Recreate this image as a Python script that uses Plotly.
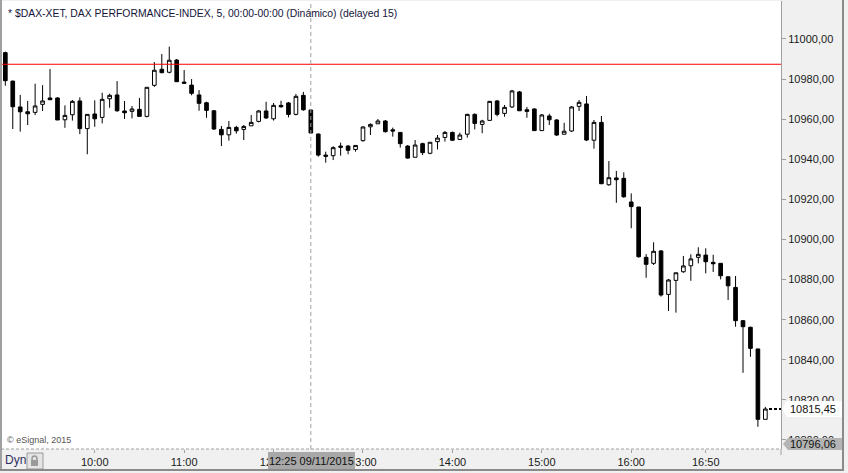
import pandas as pd
import plotly.graph_objects as go

# 5-minute candles, 09:00 - 17:30 (09/11/2015)
times = pd.date_range("2015-11-09 09:00", periods=103, freq="5min")

opens = [10993.2, 10979.0, 10966.1, 10963.7, 10963.4, 10967.4, 10970.6, 10970.6, 10959.7, 10962.2,
         10969.1, 10955.3, 10962.6, 10960.9, 10970.2, 10972.1, 10964.1, 10963.9, 10964.9, 10961.4,
         10976.9, 10984.9, 10983.4, 10989.5, 10978.5, 10977.0, 10972.1, 10968.2, 10964.2, 10954.9,
         10952.2, 10955.9, 10954.9, 10956.7, 10958.9, 10964.1, 10960.2, 10966.9, 10968.1, 10962.4,
         10971.9, 10964.6, 10952.6, 10942.1, 10941.8, 10946.6, 10946.6, 10944.9, 10949.3, 10956.2,
         10957.7, 10959.1, 10954.7, 10953.4, 10946.6, 10941.0, 10947.8, 10943.0, 10948.8, 10950.9,
         10953.4, 10949.9, 10952.5, 10962.4, 10957.4, 10959.4, 10969.1, 10962.9, 10966.1, 10973.6,
         10964.7, 10965.1, 10954.3, 10961.6, 10959.6, 10952.5, 10954.1, 10966.4, 10967.6, 10949.5,
         10958.4, 10927.3, 10930.7, 10930.5, 10918.7, 10916.2, 10891.1, 10888.1, 10894.3, 10872.6,
         10879.6, 10883.9, 10886.9, 10891.1, 10892.2, 10888.6, 10888.1, 10881.4, 10876.1, 10859.5,
         10856.2, 10845.4, 10810.3]
highs = [10993.7, 10979.2, 10972.1, 10969.1, 10977.7, 10977.0, 10985.0, 10970.9, 10966.9, 10969.6,
         10970.9, 10962.4, 10969.4, 10973.2, 10972.7, 10979.0, 10969.1, 10966.6, 10970.6, 10975.9,
         10988.5, 10992.5, 10996.2, 10990.0, 10984.5, 10980.0, 10974.5, 10968.7, 10964.6, 10956.6,
         10959.1, 10956.7, 10957.1, 10962.1, 10964.6, 10968.7, 10968.1, 10969.2, 10968.6, 10972.6,
         10973.6, 10964.9, 10952.9, 10943.8, 10946.5, 10948.3, 10947.1, 10946.9, 10956.5, 10957.9,
         10960.1, 10959.6, 10955.8, 10953.4, 10947.1, 10949.6, 10948.3, 10948.5, 10952.1, 10954.1,
         10953.8, 10953.3, 10962.7, 10962.9, 10959.7, 10969.1, 10969.6, 10967.1, 10974.6, 10974.1,
         10966.1, 10965.4, 10962.6, 10962.7, 10960.1, 10958.2, 10966.6, 10969.6, 10971.6, 10959.6,
         10961.6, 10939.1, 10934.2, 10933.5, 10923.0, 10916.2, 10892.7, 10898.6, 10894.7, 10880.3,
         10883.4, 10891.8, 10892.6, 10896.1, 10895.6, 10892.4, 10888.1, 10881.4, 10881.8, 10859.8,
         10856.5, 10845.4, 10816.5]
lows = [10976.7, 10955.1, 10953.8, 10957.1, 10962.1, 10964.1, 10969.7, 10959.6, 10955.7, 10959.3,
        10952.5, 10942.5, 10956.2, 10957.9, 10965.7, 10963.7, 10960.1, 10960.4, 10961.4, 10960.9,
        10976.1, 10982.9, 10982.9, 10978.7, 10977.9, 10971.9, 10964.2, 10960.7, 10954.6, 10946.6,
        10949.3, 10952.8, 10949.6, 10956.7, 10958.4, 10960.2, 10959.3, 10965.7, 10960.9, 10961.9,
        10964.2, 10952.9, 10941.3, 10938.3, 10939.6, 10941.8, 10942.5, 10943.8, 10948.8, 10952.1,
        10957.7, 10953.3, 10951.3, 10945.8, 10940.3, 10941.0, 10942.1, 10942.5, 10944.9, 10948.8,
        10949.1, 10949.6, 10950.8, 10954.9, 10953.0, 10959.4, 10961.4, 10961.2, 10965.6, 10964.2,
        10960.7, 10954.3, 10954.3, 10957.1, 10951.6, 10952.5, 10953.6, 10964.1, 10949.1, 10945.3,
        10927.8, 10926.8, 10918.3, 10920.8, 10905.6, 10890.9, 10880.9, 10887.3, 10871.5, 10864.3,
        10863.5, 10883.4, 10879.4, 10888.1, 10883.1, 10883.8, 10880.1, 10869.8, 10856.5, 10833.5,
        10841.5, 10806.6, 10810.3]
closes = [10979.2, 10966.2, 10963.7, 10962.7, 10966.6, 10969.1, 10969.7, 10959.6, 10961.9, 10968.9,
          10955.3, 10962.4, 10960.2, 10969.9, 10971.9, 10964.2, 10963.2, 10965.1, 10961.4, 10975.9,
          10984.4, 10983.2, 10989.4, 10978.7, 10977.9, 10972.9, 10967.9, 10964.4, 10955.1, 10952.2,
          10955.9, 10954.2, 10956.4, 10958.4, 10964.1, 10960.6, 10966.9, 10966.2, 10962.4, 10971.4,
          10964.7, 10953.1, 10942.1, 10941.5, 10945.8, 10946.0, 10944.5, 10946.9, 10956.1, 10957.4,
          10959.1, 10953.8, 10954.1, 10947.8, 10940.6, 10947.1, 10943.3, 10948.5, 10950.6, 10953.4,
          10949.5, 10952.1, 10962.4, 10957.9, 10959.1, 10968.9, 10962.4, 10965.9, 10974.1, 10964.2,
          10963.9, 10954.3, 10962.1, 10959.7, 10952.1, 10954.0, 10966.1, 10968.4, 10949.6, 10958.4,
          10927.8, 10930.8, 10929.8, 10921.3, 10916.4, 10891.4, 10887.6, 10894.1, 10872.3, 10879.8,
          10883.4, 10886.8, 10890.3, 10892.6, 10888.9, 10887.9, 10881.9, 10876.9, 10859.5, 10856.5,
          10845.7, 10810.3, 10815.45]

ref_level = 10987.4          # red horizontal line
low_label = 10796.06         # grey label at bottom of price scale
cursor_time = pd.Timestamp("2015-11-09 12:25")

xtick_times = ["10:00", "11:00", "12:00", "13:00", "14:00", "15:00", "16:00", "16:50"]
ytick_vals = list(range(10800, 11001, 20))
ytick_text = [f"{v},00" for v in ytick_vals]

W, H = 848, 473
L, R, T, B = 1, 67, 1, 24
pw, ph = W - L - R, H - T - B

def px(x):   # pixel -> paper x
    return (x - L) / pw

def py(y):   # pixel -> paper y
    return (H - B - y) / ph

FONT = "Liberation Sans"
GREY = "#a0a0a0"

fig = go.Figure()
fig.add_trace(go.Candlestick(
    x=times, open=opens, high=highs, low=lows, close=closes,
    increasing=dict(line=dict(color="black", width=1), fillcolor="white"),
    decreasing=dict(line=dict(color="black", width=1), fillcolor="black"),
    hoverinfo="skip", showlegend=False
))

step = pd.Timedelta("5min")
x0 = times[0] - step * 0.58
x1 = times[0] + step * 104.1

fig.update_layout(
    width=W, height=H, margin=dict(l=L, r=R, t=T, b=B),
    paper_bgcolor="#f0f0f0", plot_bgcolor="white",
    font=dict(family=FONT, size=11, color="#1a1a1a"),
    xaxis=dict(type="date", range=[x0, x1], rangeslider=dict(visible=False),
               tickvals=[pd.Timestamp("2015-11-09 " + t) for t in xtick_times],
               ticktext=xtick_times, ticks="outside", ticklen=3, tickcolor=GREY,
               showgrid=False, showline=False, zeroline=False,
               tickfont=dict(size=11, color="#1a1a1a")),
    yaxis=dict(side="right", range=[10795.5, 11018.95], tickvals=ytick_vals,
               ticktext=ytick_text, ticks="outside", ticklen=4, tickcolor=GREY,
               showgrid=False, showline=True, linecolor=GREY, linewidth=1,
               zeroline=False, tickfont=dict(size=11, color="#1a1a1a")),
)

shapes = [
    # red reference line
    dict(type="line", xref="paper", yref="y", x0=0, x1=1, y0=ref_level, y1=ref_level,
         line=dict(color="#ff0000", width=1)),
    # dashed bottom edge of the price pane
    dict(type="line", xref="paper", yref="paper", x0=0, x1=1, y0=0, y1=0,
         line=dict(color=GREY, width=1, dash="3px,2px")),
    # cursor line
    dict(type="line", xref="x", yref="paper", x0=cursor_time, x1=cursor_time, y0=0, y1=1,
         line=dict(color=GREY, width=1, dash="4px,3px")),
    # last price dashed marker
    dict(type="line", xref="paper", yref="y", x0=px(769), x1=1, y0=closes[-1], y1=closes[-1],
         line=dict(color="black", width=2, dash="3px,2px")),
    # last price label box
    dict(type="path", xref="paper", yref="y",
         path=f"M {px(782)} {closes[-1]} L {px(787)} {closes[-1] + 4} L {px(843)} {closes[-1] + 4} "
              f"L {px(843)} {closes[-1] - 4} L {px(787)} {closes[-1] - 4} Z",
         fillcolor="white", line=dict(width=0)),
    # low label box
    dict(type="path", xref="paper", yref="paper",
         path=f"M {px(783)} {py(444)} L {px(788)} {py(438)} L {px(843)} {py(438)} "
              f"L {px(843)} {py(450)} L {px(788)} {py(450)} Z",
         fillcolor="#b4b4b4", line=dict(width=0)),
    # cursor time label box
    dict(type="rect", xref="paper", yref="paper", x0=px(268), x1=px(355), y0=py(452), y1=py(470),
         fillcolor="#a8a8a8", line=dict(width=0)),
    # lock button
    dict(type="rect", xref="paper", yref="paper", x0=px(27), x1=px(43), y0=py(453), y1=py(469),
         fillcolor="#e4e4e4", line=dict(color="#9a9a9a", width=1)),
    dict(type="rect", xref="paper", yref="paper", x0=px(31), x1=px(38), y0=py(460), y1=py(466),
         fillcolor="#9a9a9a", line=dict(width=0)),
    dict(type="circle", xref="paper", yref="paper", x0=px(32), x1=px(37), y0=py(456), y1=py(462),
         line=dict(color="#9a9a9a", width=1.5)),
    # window frame
    dict(type="line", xref="paper", yref="paper", x0=px(1), x1=px(1), y0=py(0), y1=py(470),
         line=dict(color=GREY, width=2)),
    dict(type="line", xref="paper", yref="paper", x0=px(0), x1=px(844), y0=py(470), y1=py(470),
         line=dict(color="#8a8a8a", width=2)),
    dict(type="line", xref="paper", yref="paper", x0=px(843), x1=px(843), y0=py(0), y1=py(470),
         line=dict(color="#8a8a8a", width=2)),
    dict(type="line", xref="paper", yref="paper", x0=1, x1=1, y0=0, y1=py(455),
         line=dict(color=GREY, width=1)),
]
fig.update_layout(shapes=shapes)

annotations = [
    dict(text="* $DAX-XET, DAX PERFORMANCE-INDEX, 5, 00:00-00:00 (Dinámico) (delayed 15)",
         xref="paper", yref="paper", x=px(6), y=py(13), xanchor="left", yanchor="middle",
         showarrow=False, font=dict(size=10.4, color="#14143c")),
    dict(text="© eSignal, 2015", xref="paper", yref="paper", x=px(5), y=py(440),
         xanchor="left", yanchor="middle", showarrow=False, font=dict(size=9, color="#555555")),
    dict(text="Dyn", xref="paper", yref="paper", x=px(3), y=py(460),
         xanchor="left", yanchor="middle", showarrow=False, font=dict(size=12, color="#303060")),
    dict(text=cursor_time.strftime("%H:%M %d/%m/%Y"), xref="paper", yref="paper",
         x=px(311.5), y=py(461), xanchor="center", yanchor="middle", showarrow=False,
         font=dict(size=11, color="#111111")),
    dict(text=f"{closes[-1]:.2f}".replace(".", ","), xref="paper", yref="y",
         x=px(788), y=closes[-1], xanchor="left", yanchor="middle", showarrow=False,
         font=dict(size=11, color="#111111")),
    dict(text=f"{low_label:.2f}".replace(".", ","), xref="paper", yref="paper",
         x=px(788), y=py(444), xanchor="left", yanchor="middle", showarrow=False,
         font=dict(size=11, color="#111111")),
]
fig.update_layout(annotations=annotations)

# page has a default body margin; drop it so the figure fills the window
fig.write_html("out.html", config={"displayModeBar": False},
               post_script="document.body.style.margin='0';document.body.style.overflow='hidden';")
